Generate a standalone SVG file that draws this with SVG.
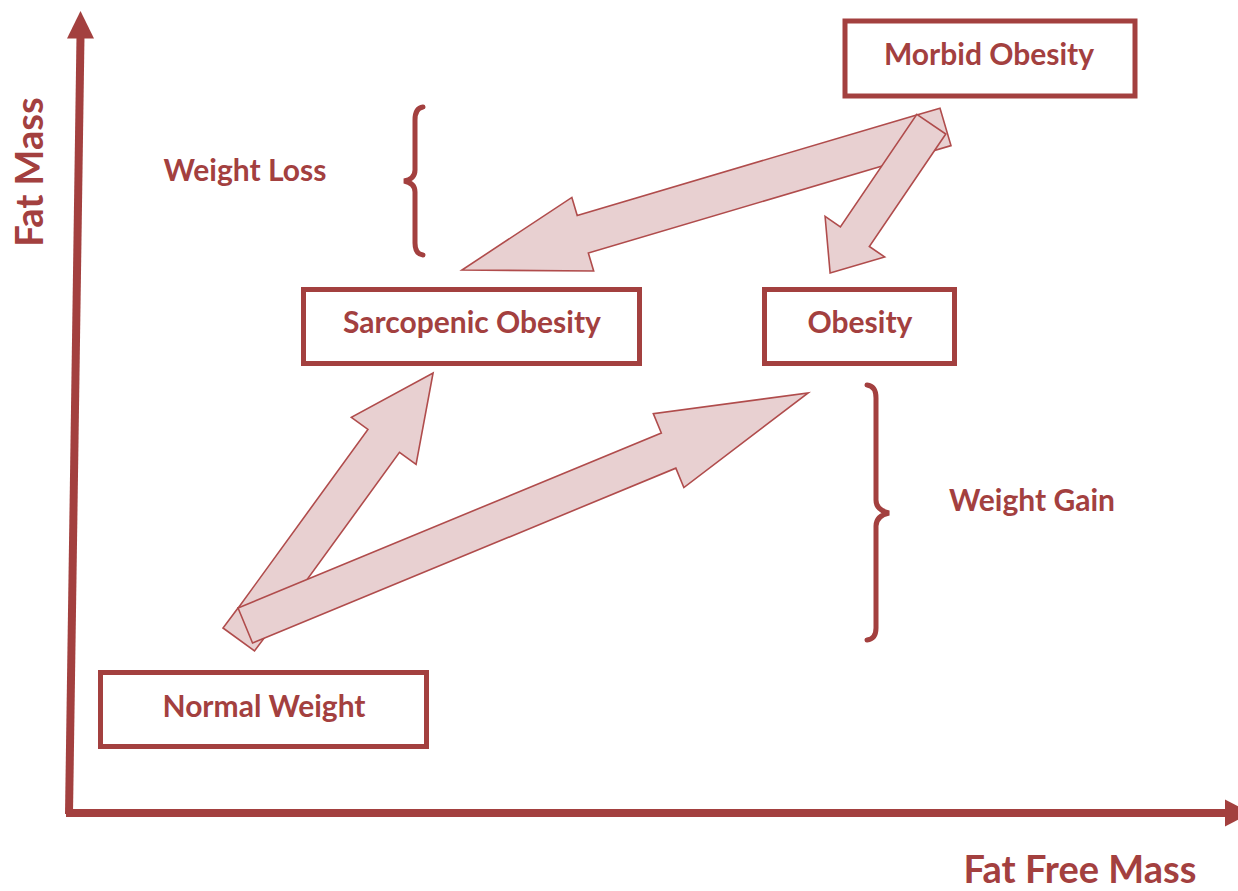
<svg xmlns="http://www.w3.org/2000/svg" width="1238" height="891" viewBox="0 0 1238 891">
<style>
.box{fill:#fff;stroke:#a3403f;stroke-width:5}
.lbl{font-family:Lato,"Open Sans","Liberation Sans",sans-serif;font-weight:700;font-size:30px;fill:#a3403f;text-anchor:middle}
.ax{font-size:38px}
.arr{fill:#e8d0d1;stroke:#b04c4c;stroke-width:1.6;stroke-linejoin:miter}
.axis{stroke:#a3403f;stroke-width:8;fill:none}
.axhead{fill:#a3403f}
.brace{fill:none;stroke:#a3403f;stroke-width:5;stroke-linecap:round}
</style>
<rect width="1238" height="891" fill="#fff"/>
<g id="axes">
<line class="axis" x1="69" y1="814" x2="80.5" y2="36"/>
<polygon class="axhead" points="80.5,11 67,38.5 94,38.5"/>
<line class="axis" x1="66" y1="813" x2="1226" y2="813"/>
<polygon class="axhead" points="1225,799.5 1251,813 1225,826.5"/>
<text class="lbl ax" transform="translate(43,172) rotate(-90)">Fat Mass</text>
<text class="lbl ax" x="1080" y="883">Fat Free Mass</text>
</g>
<g id="connectors">
<polygon class="arr" transform="translate(253.8,619.7) rotate(-54)" points="0,-19.5 221,-19.5 221,-40 305,0 221,40 221,19.5 0,19.5"/>
<polygon class="arr" points="238,608 223,628 254.5,651 269.5,631"/>
<polygon class="arr" transform="translate(245.3,625.5) rotate(-22.45)" points="0,-19 458,-19 458,-40 609,0 458,40 458,19 0,19"/>
<polygon class="arr" transform="translate(922.2,133.7) rotate(163.5)" points="0,-19.6 354,-19.6 354,-38.4 480,0 354,38.4 354,19.6 0,19.6"/>
<polygon class="arr" points="916.7,115 940,108.2 951,145.6 927.7,152.4"/>
<polygon class="arr" transform="translate(931.3,124.2) rotate(124.2)" points="0,-17.5 136,-17.5 136,-36 180,0 136,36 136,17.5 0,17.5"/>
</g>
<g id="morbid-obesity">
<rect class="box" x="845" y="21" width="290" height="75"/>
<text class="lbl" x="989" y="65">Morbid Obesity</text>
</g>
<g id="sarcopenic-obesity">
<rect class="box" x="303.5" y="289.5" width="336" height="74"/>
<text class="lbl" x="472" y="333">Sarcopenic Obesity</text>
</g>
<g id="obesity">
<rect class="box" x="764.5" y="289.5" width="190" height="74"/>
<text class="lbl" x="860" y="333">Obesity</text>
</g>
<g id="normal-weight">
<rect class="box" x="100.5" y="672.5" width="326" height="74"/>
<text class="lbl" x="264" y="717">Normal Weight</text>
</g>
<g id="weight-loss">
<path class="brace" d="M423,107 Q415,108 415,120 L415,170 Q415,179 404,181 Q415,183 415,192 L415,243 Q415,254 423,255"/>
<text class="lbl" x="245" y="181">Weight Loss</text>
</g>
<g id="weight-gain">
<path class="brace" d="M867,385 Q876,386 876,398 L876,500 Q876,510 889,513 Q876,516 876,526 L876,628 Q876,639 867,640"/>
<text class="lbl" x="1032" y="511">Weight Gain</text>
</g>
</svg>
